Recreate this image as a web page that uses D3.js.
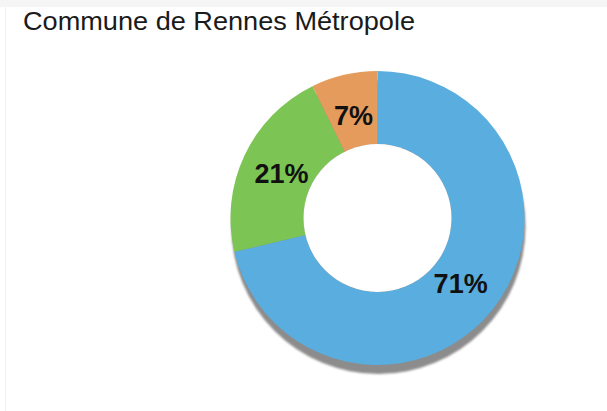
<!DOCTYPE html>
<html>
<head>
<meta charset="utf-8">
<script src="https://cdn.jsdelivr.net/npm/d3@7"></script>
<style>
  html, body { margin: 0; padding: 0; background: #ffffff; }
  svg { display: block; }
</style>
</head>
<body>
<svg id="chart" width="607" height="411"></svg>
<script>
const title = "Commune de Rennes Métropole";
const categories = ["Part 1", "Part 2", "Part 3"];
const values = [71.3, 21.4, 7.3];
const labels = ["71%", "21%", "7%"];
const colors = ["#5aaddf", "#7cc555", "#e49b5c"];

const svg = d3.select("#chart");
const W = 607, H = 411;

// faint panel frame
svg.append("rect").attr("x", 0).attr("y", 0).attr("width", W).attr("height", 7).attr("fill", "#f5f5f5");
svg.append("line").attr("x1", 5.5).attr("x2", 5.5).attr("y1", 7).attr("y2", H)
  .attr("stroke", "#f2f2f2").attr("stroke-width", 1);

svg.append("text")
  .attr("x", 23).attr("y", 30)
  .attr("font-family", "Liberation Sans, Arial, sans-serif")
  .attr("font-size", 25)
  .attr("fill", "#1a1a1a")
  .attr("textLength", 392)
  .attr("lengthAdjust", "spacingAndGlyphs")
  .text(title);

const cx = 377.5, cy = 218, rOuter = 147, rInner = 74;

const defs = svg.append("defs");
defs.append("filter").attr("id", "blur").attr("x", "-10%").attr("y", "-10%").attr("width", "120%").attr("height", "120%")
  .append("feGaussianBlur").attr("stdDeviation", 1.2);

const g = svg.append("g").attr("transform", `translate(${cx},${cy})`);

// shadow
g.append("circle")
  .attr("cx", 1).attr("cy", 9).attr("r", rOuter)
  .attr("fill", "#8c8c8c")
  .attr("filter", "url(#blur)");

const pie = d3.pie().sort(null).value(d => d.value);
const data = categories.map((c, i) => ({ cat: c, value: values[i], label: labels[i], color: colors[i] }));
const arcs = pie(data);

const arc = d3.arc().innerRadius(rInner).outerRadius(rOuter);
const labelArc = d3.arc().innerRadius(94).outerRadius(118);

g.selectAll("path.slice").data(arcs).enter().append("path")
  .attr("class", "slice")
  .attr("d", arc)
  .attr("fill", d => d.data.color);

// white hole covers shadow inside
g.append("circle").attr("r", rInner).attr("fill", "#ffffff");

g.selectAll("text.lbl").data(arcs).enter().append("text")
  .attr("class", "lbl")
  .attr("transform", d => { const c = labelArc.centroid(d); return `translate(${c[0]},${c[1]})`; })
  .attr("text-anchor", "middle")
  .attr("dy", "0.36em")
  .attr("font-family", "Liberation Sans, Arial, sans-serif")
  .attr("font-weight", "bold")
  .attr("font-size", 27)
  .attr("fill", "#111111")
  .text(d => d.data.label);
</script>
</body>
</html>
